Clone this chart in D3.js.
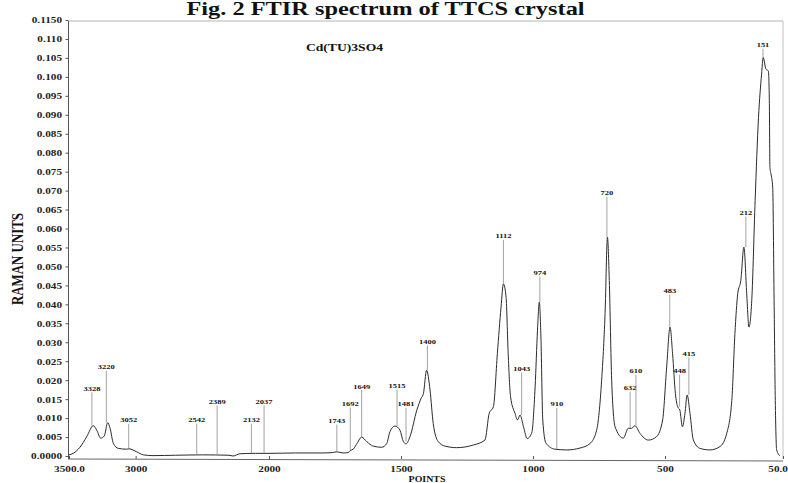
<!DOCTYPE html>
<html><head><meta charset="utf-8">
<script src="https://cdn.jsdelivr.net/npm/d3@7"></script>
<style>body{margin:0;background:#fff}svg{display:block}</style>
</head><body><svg id="c" width="788" height="483"></svg>
<script>
// ---------- data ----------
const wavenumbers = [3500,3468,3418,3367,3318,3292,3262,3235,3210,3192,3167,3130,3067,3050,3035,2992,2942,2870,2700,2500,2300,2270,2217,2100,2000,1900,1800,1760,1743,1720,1700,1693,1681,1665,1649,1630,1605,1573,1554,1542,1523,1504,1491,1481,1466,1440,1424,1415,1403,1390,1378,1359,1333,1289,1226,1182,1166,1150,1135,1121,1112,1102,1094,1085,1068,1059,1049,1036,1022,1005,992,983,976,970,963,951,917,872,822,784,759,740,727,718,711,702,689,658,639,626,614,595,563,532,509,494,482,473,463,455,447,438,429,421,411,399,375,340,304,280,262,251,241,230,219,209,201,191,179,167,156,150,136,124,119,116,111,102,95,89,82,65];
const intensities = [0.0003,0.0007,0.0023,0.0051,0.0080,0.0068,0.0047,0.0053,0.0088,0.0073,0.0033,0.0020,0.0018,0.0019,0.0018,0.0011,0.0003,0.0001,0.0002,0.0003,0.0002,0.0000,0.0006,0.0007,0.0007,0.0008,0.0008,0.0009,0.0011,0.0008,0.0009,0.0014,0.0018,0.0035,0.0050,0.0038,0.0026,0.0023,0.0033,0.0064,0.0079,0.0068,0.0038,0.0032,0.0051,0.0121,0.0152,0.0165,0.0226,0.0174,0.0086,0.0038,0.0026,0.0022,0.0029,0.0042,0.0112,0.0130,0.0270,0.0393,0.0454,0.0419,0.0270,0.0156,0.0112,0.0095,0.0108,0.0077,0.0046,0.0060,0.0182,0.0332,0.0406,0.0314,0.0095,0.0034,0.0018,0.0016,0.0021,0.0033,0.0068,0.0200,0.0376,0.0577,0.0463,0.0200,0.0077,0.0047,0.0073,0.0073,0.0080,0.0060,0.0042,0.0051,0.0095,0.0235,0.0340,0.0270,0.0165,0.0130,0.0121,0.0077,0.0112,0.0161,0.0112,0.0042,0.0020,0.0016,0.0025,0.0060,0.0147,0.0323,0.0428,0.0463,0.0551,0.0428,0.0340,0.0411,0.0674,0.0893,0.1007,0.1051,0.1020,0.1016,0.0937,0.0761,0.0745,0.0709,0.0411,0.0147,0.0016,0.0000];

const peakLabels = ["3328","3220","3052","2542","2389","2132","2037","1743","1692","1649","1515","1481","1400","1112","1043","974","910","720","632","610","483","448","415","212","151"];
const peakPositions = [3328,3220,3052,2542,2389,2132,2037,1743,1692,1649,1515,1481,1400,1112,1043,974,910,720,632,610,483,448,415,212,151];
const peakLabelLevels = [0.0172,0.0229,0.0089,0.0089,0.0137,0.0089,0.0137,0.0087,0.0132,0.0178,0.0179,0.0131,0.0295,0.0574,0.0224,0.0477,0.0131,0.0688,0.0174,0.0218,0.0429,0.0218,0.0264,0.0635,0.1078];

const yTickValues = [0.115,0.110,0.105,0.100,0.095,0.090,0.085,0.080,0.075,0.070,0.065,0.060,0.055,0.050,0.045,0.040,0.035,0.030,0.025,0.020,0.015,0.010,0.005,0.000];
const yTickLabels = ["0.1150","0.110","0.105","0.100","0.095","0.090","0.085","0.080","0.075","0.070","0.065","0.060","0.055","0.050","0.045","0.040","0.035","0.030","0.025","0.020","0.015","0.010","0.005","0.0000"];
const xTickValues = [3500,3000,2000,1500,1000,500,50];
const xTickLabels = ["3500.0","3000","2000","1500","1000","500","50.0"];

const titleText = "Fig. 2 FTIR spectrum of TTCS crystal";
const sampleText = "Cd(TU)3SO4";
const yTitle = "RAMAN UNITS";
const xTitle = "POINTS";

// ---------- drawing ----------
const svg = d3.select("#c");
const serif = "'Liberation Serif','Times New Roman',serif";
const SX = 1.25; // horizontal stretch of the scanned lettering

const x = d3.scaleLinear().domain([3500,2000,500,151,50]).range([69,269,665,763,783]);
const y = d3.scaleLinear().domain([0,0.115]).range([456,20]);
const axisY = 459;
const [xl, xr] = [x(3500), x(50)];

function sText(g, px, py, str, size, anchor) {
  return g.append("text")
    .attr("transform", `translate(${px},${py}) scale(${SX},1)`)
    .attr("text-anchor", anchor || "middle")
    .attr("font-family", serif).attr("font-weight", "bold")
    .attr("font-size", size).attr("fill", "#111")
    .text(str);
}

// frame
svg.append("line").attr("x1", xl).attr("x2", xr).attr("y1", y(0.115)+1).attr("y2", y(0.115)+1)
  .attr("stroke", "#b5b5b5").attr("stroke-width", 1);
svg.append("line").attr("x1", xr).attr("x2", xr).attr("y1", y(0.115)+1).attr("y2", axisY)
  .attr("stroke", "#c0c0c0").attr("stroke-width", 1);
svg.append("line").attr("x1", xl - 0.5).attr("x2", xl - 0.5).attr("y1", y(0.115)+1).attr("y2", axisY)
  .attr("stroke", "#555").attr("stroke-width", 1);
svg.append("line").attr("x1", xl - 1).attr("x2", xr).attr("y1", axisY).attr("y2", axisY + 2)
  .attr("stroke", "#666").attr("stroke-width", 1);

// y axis
const gy = svg.append("g").attr("transform", `translate(${xl - 0.5},0)`)
  .call(d3.axisLeft(y).tickValues(yTickValues).tickFormat((d, i) => yTickLabels[i]).tickSize(3).tickPadding(3.5));
gy.select(".domain").remove();
gy.selectAll(".tick line").attr("stroke", "#555");
gy.selectAll(".tick text")
  .attr("font-family", serif).attr("font-weight", "bold").attr("font-size", 9).attr("fill", "#222")
  .attr("x", -6.5 / SX).attr("transform", `scale(${SX},1)`);

// x axis
const gx = svg.append("g").attr("transform", `translate(0,${axisY})`)
  .call(d3.axisBottom(x).tickValues(xTickValues).tickFormat((d, i) => xTickLabels[i]).tickSize(-3).tickPadding(7));
gx.select(".domain").remove();
gx.selectAll(".tick line").attr("stroke", "#555");
gx.selectAll(".tick text")
  .attr("font-family", serif).attr("font-weight", "bold").attr("font-size", 9).attr("fill", "#222")
  .attr("transform", `scale(${SX},1)`);
// keep the last label inside the window
gx.selectAll(".tick").filter(d => d === 50).select("text")
  .attr("text-anchor", "end").attr("x", 4.5 / SX);

// spectrum
const pts = wavenumbers.map((w, i) => [w, intensities[i]]);
const line = d3.line().x(d => x(d[0])).y(d => y(d[1])).curve(d3.curveMonotoneX);
svg.append("path").datum(pts).attr("d", line)
  .attr("fill", "none").attr("stroke", "#2b2b2b").attr("stroke-width", 1);

// peak markers
function peakValue(p) {
  let interp = 0;
  for (let i = 0; i < pts.length - 1; i++) {
    const a = pts[i], b = pts[i + 1];
    if (a[0] >= p && b[0] <= p) { interp = a[1] + (b[1] - a[1]) * (a[0] - p) / (a[0] - b[0]); break; }
  }
  let m = interp;
  pts.forEach(d => { if (Math.abs(d[0] - p) <= 10) m = Math.max(m, d[1]); });
  return m;
}
const gp = svg.append("g");
peakLabels.forEach((lab, i) => {
  const p = peakPositions[i];
  const ly = y(peakLabelLevels[i]);
  gp.append("line").attr("x1", x(p)).attr("x2", x(p))
    .attr("y1", ly + 1.5).attr("y2", y(peakValue(p)))
    .attr("stroke", "#8a8a8a").attr("stroke-width", 0.8);
  sText(gp, x(p), ly, lab, 6.8, "middle");
});

// titles
sText(svg, 385.5, 15, titleText, 19.5, "middle");
sText(svg, 344.5, 51, sampleText, 10.9, "middle");
sText(svg, 427, 481.5, xTitle, 7.9, "middle");
svg.append("text")
  .attr("transform", `translate(22.5,259) rotate(-90) scale(1,${SX})`)
  .attr("text-anchor", "middle").attr("font-family", serif).attr("font-weight", "bold")
  .attr("font-size", 12.9).attr("fill", "#111").text(yTitle);
</script>
</body></html>
